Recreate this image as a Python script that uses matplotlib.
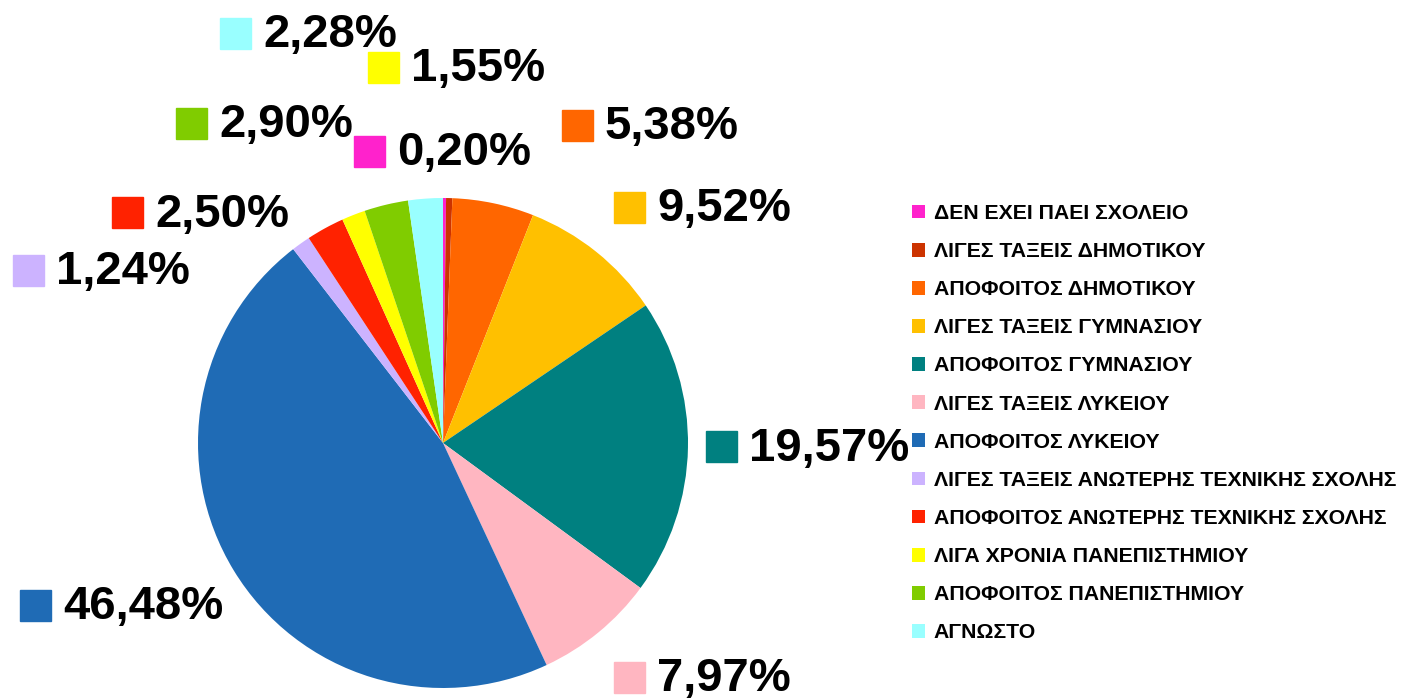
import matplotlib.pyplot as plt
from matplotlib.patches import Rectangle

categories = ['ΔΕΝ ΕΧΕΙ ΠΑΕΙ ΣΧΟΛΕΙΟ', 'ΛΙΓΕΣ ΤΑΞΕΙΣ ΔΗΜΟΤΙΚΟΥ', 'ΑΠΟΦΟΙΤΟΣ ΔΗΜΟΤΙΚΟΥ',
              'ΛΙΓΕΣ ΤΑΞΕΙΣ ΓΥΜΝΑΣΙΟΥ', 'ΑΠΟΦΟΙΤΟΣ ΓΥΜΝΑΣΙΟΥ', 'ΛΙΓΕΣ ΤΑΞΕΙΣ ΛΥΚΕΙΟΥ',
              'ΑΠΟΦΟΙΤΟΣ ΛΥΚΕΙΟΥ', 'ΛΙΓΕΣ ΤΑΞΕΙΣ ΑΝΩΤΕΡΗΣ ΤΕΧΝΙΚΗΣ ΣΧΟΛΗΣ',
              'ΑΠΟΦΟΙΤΟΣ ΑΝΩΤΕΡΗΣ ΤΕΧΝΙΚΗΣ ΣΧΟΛΗΣ', 'ΛΙΓΑ ΧΡΟΝΙΑ ΠΑΝΕΠΙΣΤΗΜΙΟΥ',
              'ΑΠΟΦΟΙΤΟΣ ΠΑΝΕΠΙΣΤΗΜΙΟΥ', 'ΑΓΝΩΣΤΟ']
values = [0.20, 0.41, 5.38, 9.52, 19.57, 7.97, 46.48, 1.24, 2.50, 1.55, 2.90, 2.28]
show_label = [True, False, True, True, True, True, True, True, True, True, True, True]
colors = ['#FF22CC', '#CC3300', '#FF6600', '#FFC000', '#008080', '#FFB6C1',
          '#1F6BB5', '#CCB3FF', '#FF2200', '#FFFF00', '#80CC00', '#99FFFF']

# label placement (pixel position of the colour square's left/top edge)
label_pos = [(354, 136), None, (562, 110), (614, 192), (706, 431), (614, 662),
             (20, 590), (13, 255), (112, 197), (368, 52), (176, 108), (220, 18)]

W, H = 1402, 700
fig = plt.figure(figsize=(W / 100, H / 100), dpi=100)
plt.rcParams['font.family'] = ['Liberation Sans', 'DejaVu Sans']

cx, cy, r = 443, 443, 245
ax = fig.add_axes([(cx - r) / W, 1 - (cy + r) / H, 2 * r / W, 2 * r / H])
wedges, _ = ax.pie(values, colors=colors, startangle=90, counterclock=False,
                   radius=1, wedgeprops={'linewidth': 0})
ax.set_xlim(-1, 1)
ax.set_ylim(-1, 1)
ax.set_aspect('auto')
ax.axis('off')

sq = 31
for v, c, pos, show in zip(values, colors, label_pos, show_label):
    if not show:
        continue
    x, y = pos
    fig.patches.append(Rectangle((x / W, 1 - (y + sq) / H), sq / W, sq / H,
                                 transform=fig.transFigure, color=c))
    txt = f'{v:.2f}%'.replace('.', ',')
    fig.text((x + 43) / W, 1 - (y + sq / 2 + 2) / H, txt, fontsize=34,
             fontweight='bold', va='center', ha='left')

leg = fig.legend(wedges, categories, loc='upper left',
                 bbox_to_anchor=(912 / W, 1 - 204 / H), frameon=False,
                 prop={'size': 15.3, 'weight': 'bold'}, handlelength=0.62,
                 handleheight=0.62, handletextpad=0.4, labelspacing=0.9,
                 borderaxespad=0, borderpad=0)

fig.savefig('out.png', dpi=100)
